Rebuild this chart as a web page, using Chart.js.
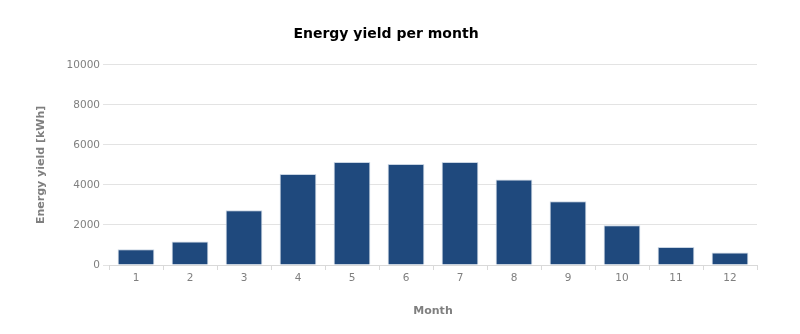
<!DOCTYPE html>
<html>
<head>
<meta charset="utf-8">
<title>Energy yield per month</title>
<script src="https://cdn.jsdelivr.net/npm/chart.js@4.4.1/dist/chart.umd.min.js"></script>
<style>
    html, body { margin: 0; padding: 0; background: #fff; }
    #chartBox { width: 800px; height: 334px; }
</style>
</head>
<body>
<div id="chartBox"><canvas id="yieldChart"></canvas></div>
<script>
// months on the x axis
var months = ['1', '2', '3', '4', '5', '6', '7', '8', '9', '10', '11', '12'];
// energy yield per month in kWh
var yieldKwh = [790, 1170, 2730, 4550, 5150, 5050, 5150, 4270, 3180, 1990, 900, 620];

var labelFont = { family: 'DejaVu Sans', size: 10.5 };
var axisTitleFont = { family: 'DejaVu Sans', size: 11, weight: 'bold' };

const ctx = document.getElementById('yieldChart');

const config = {
    type: 'bar',
    data: {
        labels: months,
        datasets: [{
            label: 'Energy yield',
            data: yieldKwh,
            backgroundColor: '#1f497d',
            borderColor: '#c9d5e3',
            borderWidth: 1,
            barPercentage: 0.68,
            categoryPercentage: 1
        }]
    },
    options: {
        responsive: true,
        maintainAspectRatio: false,
        animation: false,
        layout: {
            padding: { left: 15, right: 43, top: 0, bottom: 12 }
        },
        plugins: {
            legend: { display: false },
            tooltip: { enabled: false },
            title: {
                display: true,
                text: 'Energy yield per month',
                color: '#000',
                font: { family: 'DejaVu Sans', size: 14, weight: 'bold' },
                padding: { top: 26, bottom: 22 }
            }
        },
        scales: {
            x: {
                grid: {
                    drawOnChartArea: false,
                    tickLength: 5,
                    color: '#d9d9d9'
                },
                border: { color: '#d9d9d9' },
                ticks: { color: '#7f7f7f', font: labelFont, padding: 2 },
                title: {
                    display: true,
                    text: 'Month',
                    color: '#7f7f7f',
                    font: axisTitleFont,
                    padding: { top: 0, bottom: 4 }
                },
                afterFit: function (scale) {
                    scale.height = 57;
                }
            },
            y: {
                min: 0,
                max: 10000,
                ticks: {
                    stepSize: 2000,
                    color: '#7f7f7f',
                    font: labelFont,
                    padding: 3,
                    // plain numbers, no thousands separator
                    callback: function (value) {
                        return String(value);
                    }
                },
                grid: {
                    color: '#e3e3e3',
                    tickLength: 6
                },
                border: { display: false },
                title: {
                    display: true,
                    text: 'Energy yield [kWh]',
                    color: '#7f7f7f',
                    font: axisTitleFont,
                    padding: { top: 20, bottom: 0 }
                },
                afterFit: function (scale) {
                    scale.width = 94;
                }
            }
        }
    }
};

// draw chart
var yieldChart = new Chart(ctx, config);
</script>
</body>
</html>
